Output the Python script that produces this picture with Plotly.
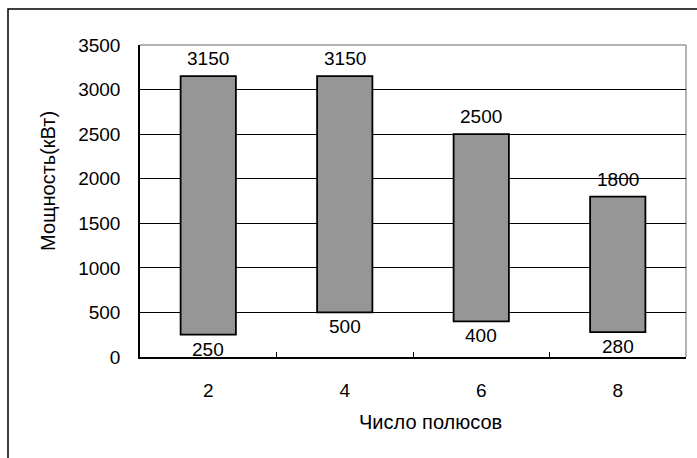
import plotly.graph_objects as go

categories = ["2", "4", "6", "8"]
low_values = [250, 500, 400, 280]
high_values = [3150, 3150, 2500, 1800]
y_ticks = [0, 500, 1000, 1500, 2000, 2500, 3000, 3500]

FONT = "Liberation Sans, Arial, sans-serif"
FS = 19
W, H = 697, 458
L, R, T, B = 140, 11, 45, 101
pw = W - L - R
ph = H - T - B

fig = go.Figure()
fig.add_trace(go.Bar(
    x=categories,
    y=[h - l for h, l in zip(high_values, low_values)],
    base=low_values,
    width=0.405,
    marker=dict(color="#969696", line=dict(color="black", width=1.8)),
    hoverinfo="skip",
))

annotations = []
for i, v in enumerate(high_values):
    annotations.append(dict(x=i, y=v, xref="x", yref="y", text=str(v),
                            showarrow=False, yanchor="bottom", yshift=5,
                            font=dict(family=FONT, size=FS, color="black")))
for i, v in enumerate(low_values):
    annotations.append(dict(x=i, y=v, xref="x", yref="y", text=str(v),
                            showarrow=False, yanchor="top", yshift=-2,
                            font=dict(family=FONT, size=FS, color="black")))
annotations.append(dict(text="Число полюсов", xref="paper", yref="paper",
                        x=(430 - L) / pw, y=-(422 - (T + ph)) / ph,
                        xanchor="center", yanchor="middle", showarrow=False,
                        font=dict(family=FONT, size=20, color="black")))
annotations.append(dict(text="Мощность(кВт)", xref="paper", yref="paper",
                        x=(48 - L) / pw, y=1 - (181 - T) / ph, textangle=-90,
                        xanchor="center", yanchor="middle", showarrow=False,
                        font=dict(family=FONT, size=20, color="black")))

fig.update_layout(
    width=W, height=H,
    margin=dict(l=L, r=R, t=T, b=B),
    paper_bgcolor="white", plot_bgcolor="white",
    showlegend=False,
    font=dict(family=FONT, size=FS, color="black"),
    xaxis=dict(
        type="category", tickson="boundaries", ticks="inside", ticklen=5,
        tickcolor="black", tickwidth=1.2, showline=True, linecolor="black",
        linewidth=1.5, showgrid=False, range=[-0.5, 3.5],
        ticklabelstandoff=15, tickfont=dict(size=FS),
    ),
    yaxis=dict(
        range=[0, 3500], tickvals=y_ticks, ticks="", showline=True,
        linecolor="black", linewidth=1.5, gridcolor="black", gridwidth=1,
        zeroline=False, ticklabelstandoff=14, tickfont=dict(size=FS),
    ),
    annotations=annotations,
    shapes=[
        dict(type="line", xref="paper", yref="paper", x0=0, x1=1, y0=1, y1=1,
             line=dict(color="#999999", width=1.5), layer="below"),
        dict(type="line", xref="paper", yref="paper", x0=1, x1=1, y0=0, y1=1,
             line=dict(color="#999999", width=1.5), layer="below"),
        dict(type="rect", xref="paper", yref="paper",
             x0=(8 - L) / pw, x1=1.1, y0=-0.5, y1=1 + (T - 9) / ph,
             line=dict(color="black", width=1.5)),
    ],
)
fig.write_html(
    "out.html",
    config={"displayModeBar": False},
    post_script="document.body.style.margin='0';document.body.style.overflow='hidden';",
)
